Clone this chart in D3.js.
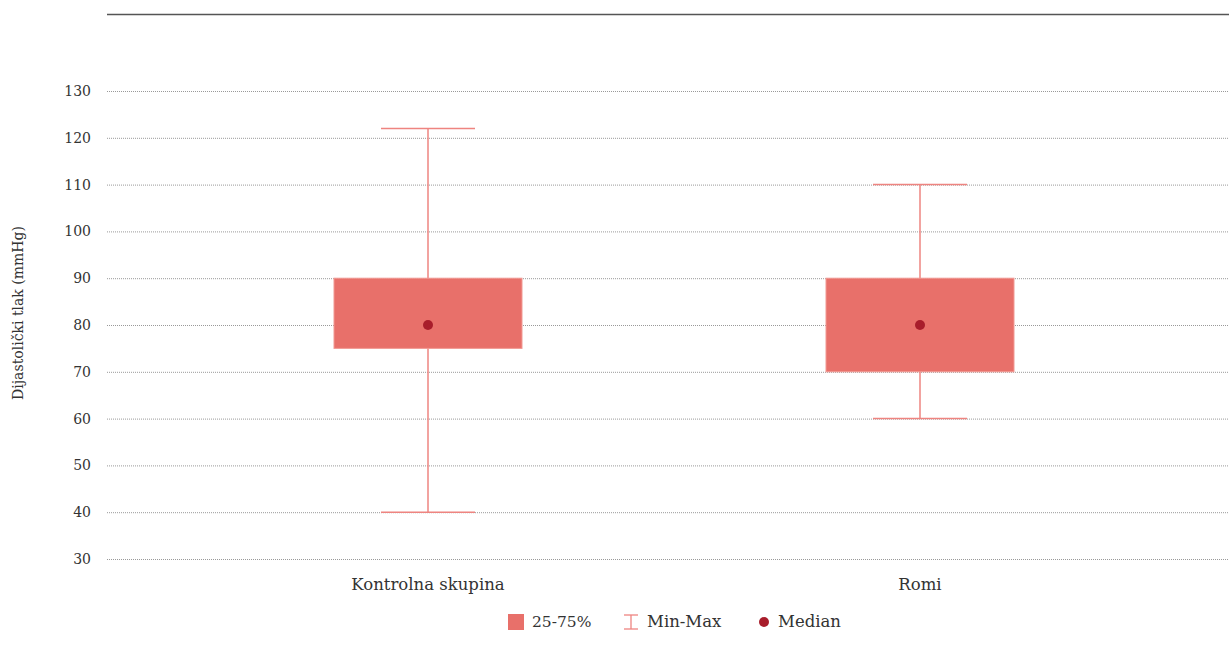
<!DOCTYPE html>
<html><head><meta charset="utf-8">
<script src="https://cdn.jsdelivr.net/npm/d3@7"></script>
<style>
body{margin:0;background:#fff;}
text{font-family:"DejaVu Serif",serif;fill:#333;}
</style></head>
<body><svg id="c" width="1229" height="649"></svg>
<script>
const categories = ["Kontrolna skupina", "Romi"];
const minValues = [40, 60];
const q1Values = [75, 70];
const medianValues = [80, 80];
const q3Values = [90, 90];
const maxValues = [122, 110];
const yTicks = [30, 40, 50, 60, 70, 80, 90, 100, 110, 120, 130];
const yTitle = "Dijastolički tlak (mmHg)";
const legendLabels = ["25-75%", "Min-Max", "Median"];

const svg = d3.select("#c");
const left = 107, right = 1229;
const y = d3.scaleLinear().domain([30, 130]).range([559, 91]);
const x = d3.scalePoint().domain(categories).range([428, 920]);
const boxW = 188, capW = 94;
const boxFill = "#e8706a", boxStroke = "#f29a94", whiskerColor = "#ee8480", medColor = "#a81d2b";

// top line
svg.append("line").attr("x1", left).attr("x2", right).attr("y1", 14.5).attr("y2", 14.5)
  .attr("stroke", "#555").attr("stroke-width", 1.3);

// grid
const yAxis = d3.axisLeft(y).tickValues(yTicks).tickSize(-(right - left)).tickPadding(16);
const ga = svg.append("g").attr("transform", `translate(${left},0)`).call(yAxis);
ga.select(".domain").remove();
ga.selectAll(".tick line").attr("stroke", "#999").attr("stroke-dasharray", "1,1").attr("stroke-width", 1);
ga.selectAll(".tick text").attr("font-size", 14).attr("fill", "#333").attr("font-family", "DejaVu Serif, serif");

// y title
svg.append("text").attr("transform", `translate(23,313) rotate(-90)`)
  .attr("text-anchor", "middle").attr("font-size", 14).text(yTitle);

const data = categories.map((c, i) => ({c, min: minValues[i], q1: q1Values[i], med: medianValues[i], q3: q3Values[i], max: maxValues[i]}));

const g = svg.append("g");
data.forEach(d => {
  const cx = x(d.c);
  g.append("line").attr("x1", cx).attr("x2", cx).attr("y1", y(d.max)).attr("y2", y(d.min))
    .attr("stroke", whiskerColor).attr("stroke-width", 1.5);
  g.append("line").attr("x1", cx - capW/2).attr("x2", cx + capW/2).attr("y1", y(d.max)).attr("y2", y(d.max))
    .attr("stroke", whiskerColor).attr("stroke-width", 1.5);
  g.append("line").attr("x1", cx - capW/2).attr("x2", cx + capW/2).attr("y1", y(d.min)).attr("y2", y(d.min))
    .attr("stroke", whiskerColor).attr("stroke-width", 1.5);
  g.append("rect").attr("x", cx - boxW/2).attr("y", y(d.q3)).attr("width", boxW).attr("height", y(d.q1) - y(d.q3))
    .attr("fill", boxFill).attr("stroke", boxStroke).attr("stroke-width", 1);
  g.append("circle").attr("cx", cx).attr("cy", y(d.med)).attr("r", 5).attr("fill", medColor);
});

// x labels
categories.forEach(c => {
  svg.append("text").attr("x", x(c)).attr("y", 590).attr("text-anchor", "middle").attr("font-size", 16.5).text(c);
});

// legend
const ly = 622;
const lg = svg.append("g");
lg.append("rect").attr("x", 508).attr("y", ly - 8).attr("width", 16).attr("height", 16).attr("fill", boxFill);
lg.append("text").attr("x", 532).attr("y", ly + 5).attr("font-size", 15.5).text(legendLabels[0]);
const wx = 631;
lg.append("line").attr("x1", wx).attr("x2", wx).attr("y1", ly - 7).attr("y2", ly + 7).attr("stroke", whiskerColor).attr("stroke-width", 1.3);
lg.append("line").attr("x1", wx - 7).attr("x2", wx + 7).attr("y1", ly - 7).attr("y2", ly - 7).attr("stroke", whiskerColor).attr("stroke-width", 1.3);
lg.append("line").attr("x1", wx - 7).attr("x2", wx + 7).attr("y1", ly + 7).attr("y2", ly + 7).attr("stroke", whiskerColor).attr("stroke-width", 1.3);
lg.append("text").attr("x", 647).attr("y", ly + 5).attr("font-size", 16.5).text(legendLabels[1]);
lg.append("circle").attr("cx", 764).attr("cy", ly).attr("r", 5).attr("fill", medColor);
lg.append("text").attr("x", 778).attr("y", ly + 5).attr("font-size", 16.5).text(legendLabels[2]);
</script></body></html>
